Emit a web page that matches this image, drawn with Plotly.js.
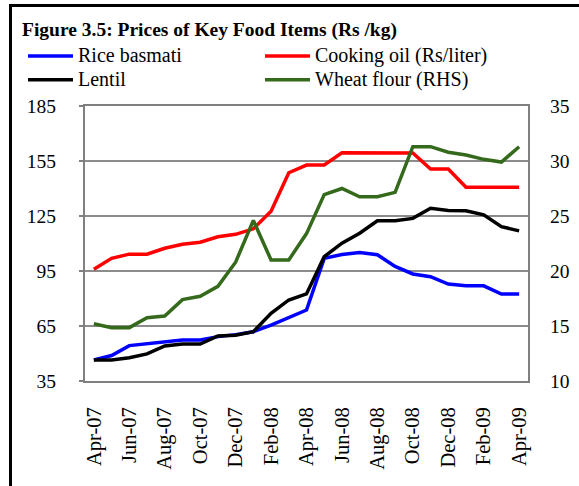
<!DOCTYPE html>
<html>
<head>
<meta charset="utf-8">
<script src="https://cdn.plot.ly/plotly-3.0.1.min.js"></script>
<style>
  html, body { margin: 0; padding: 0; background: #fff; }
  #wrap { position: relative; width: 579px; height: 486px; }
  #chart { width: 579px; height: 486px; }
  #frame { position: absolute; left: 9px; top: 4px; width: 570px; height: 482px;
           border-top: 3px solid #000; border-left: 3px solid #000; box-sizing: border-box; pointer-events: none; }
</style>
</head>
<body>
<div id="wrap">
  <div id="chart"></div>
  <div id="frame"></div>
</div>
<script>
const months = ["Apr-07","May-07","Jun-07","Jul-07","Aug-07","Sep-07","Oct-07","Nov-07","Dec-07","Jan-08","Feb-08","Mar-08",
                "Apr-08","May-08","Jun-08","Jul-08","Aug-08","Sep-08","Oct-08","Nov-08","Dec-08","Jan-09","Feb-09","Mar-09","Apr-09"];
const riceBasmati = [46.5,48.9,54.3,55.4,56.3,57.4,57.4,59.2,60.3,61.9,65.5,69.7,73.7,101.9,104.0,105.1,103.9,97.5,93.4,91.9,87.9,86.9,86.9,82.4,82.4];
const lentil      = [46.5,46.5,47.7,49.8,54.1,55.2,55.2,59.6,60.0,61.9,71.9,79.2,82.5,102.8,110.2,115.6,122.4,122.4,123.7,129.2,128.0,127.9,125.6,119.2,116.9];
const cookingOil  = [96.0,101.9,104.2,104.2,107.4,109.6,110.7,113.7,115.0,118.0,127.6,148.6,152.8,152.8,159.5,159.4,159.4,159.4,159.4,150.6,150.6,140.7,140.7,140.7,140.7];
const wheatFlour  = [15.2,14.85,14.85,15.75,15.9,17.4,17.7,18.6,20.8,24.6,21.0,21.0,23.4,26.95,27.5,26.75,26.75,27.15,31.3,31.3,30.8,30.55,30.15,29.9,31.3];
const seriesNames = ["Rice basmati", "Cooking oil (Rs/liter)", "Lentil", "Wheat flour (RHS)"];
const tickMonths = months.filter((m, i) => i % 2 === 0);

const serif = "Liberation Serif";
const lw = 3.5;
const nm = s => '<span style="font-size:20px">' + s + '</span>';

const traces = [
  {x: months, y: riceBasmati, name: nm(seriesNames[0]), type: "scatter", mode: "lines", line: {color: "#0000FF", width: lw}},
  {x: months, y: cookingOil, name: nm(seriesNames[1]), type: "scatter", mode: "lines", line: {color: "#FF0000", width: lw}},
  {x: months, y: lentil, name: nm(seriesNames[2]), type: "scatter", mode: "lines", line: {color: "#000000", width: lw}},
  {x: months, y: wheatFlour, name: nm(seriesNames[3]), type: "scatter", mode: "lines", yaxis: "y2", line: {color: "#356A1C", width: lw}}
];

const L = 85, R = 51, T = 106, B = 105, W = 579, H = 486;
const pw = W - L - R, ph = H - T - B;

const layout = {
  width: W, height: H,
  margin: {l: L, r: R, t: T, b: B, autoexpand: false},
  paper_bgcolor: "#fff", plot_bgcolor: "#fff",
  font: {family: serif, color: "#000", size: 19},
  title: {text: "<b>Figure 3.5: Prices of Key Food Items (Rs /kg)</b>", font: {family: serif, size: 19.5, color: "#000"},
          xref: "container", x: 22/W, xanchor: "left", yref: "container", y: 1 - 29/H, yanchor: "middle"},
  showlegend: true,
  legend: {orientation: "h", xref: "paper", yref: "paper", x: (23 - L)/pw, xanchor: "left", y: (H - B - 39)/ph, yanchor: "top",
           entrywidth: 177, entrywidthmode: "pixels", itemwidth: 45, font: {family: serif, size: 16, color: "#000"},
           bgcolor: "rgba(0,0,0,0)", traceorder: "normal"},
  xaxis: {type: "category", categoryorder: "array", categoryarray: months, range: [-0.5, 24.5],
          tickmode: "array", tickvals: tickMonths, ticktext: tickMonths, tickangle: -90,
          showgrid: false, zeroline: false, showline: true, mirror: true, linecolor: "#808080", linewidth: 2,
          ticks: "", ticklabelstandoff: 16, tickfont: {family: serif, size: 20.5, color: "#000"}},
  yaxis: {range: [35, 185], tickmode: "linear", tick0: 35, dtick: 30, showgrid: true, gridcolor: "#8c8c8c", gridwidth: 2,
          zeroline: false, showline: true, mirror: true, linecolor: "#808080", linewidth: 2,
          ticks: "outside", ticklen: 4, tickcolor: "#808080", tickwidth: 1.5, ticklabelstandoff: 19,
          tickfont: {family: serif, size: 19.5, color: "#000"}},
  yaxis2: {overlaying: "y", side: "right", range: [10, 35], tickmode: "linear", tick0: 10, dtick: 5,
           showgrid: false, zeroline: false, showline: false, ticks: "", ticklabelstandoff: 21,
           tickfont: {family: serif, size: 19.5, color: "#000"}}
};

Plotly.newPlot("chart", traces, layout, {displayModeBar: false, staticPlot: true});
</script>
</body>
</html>
